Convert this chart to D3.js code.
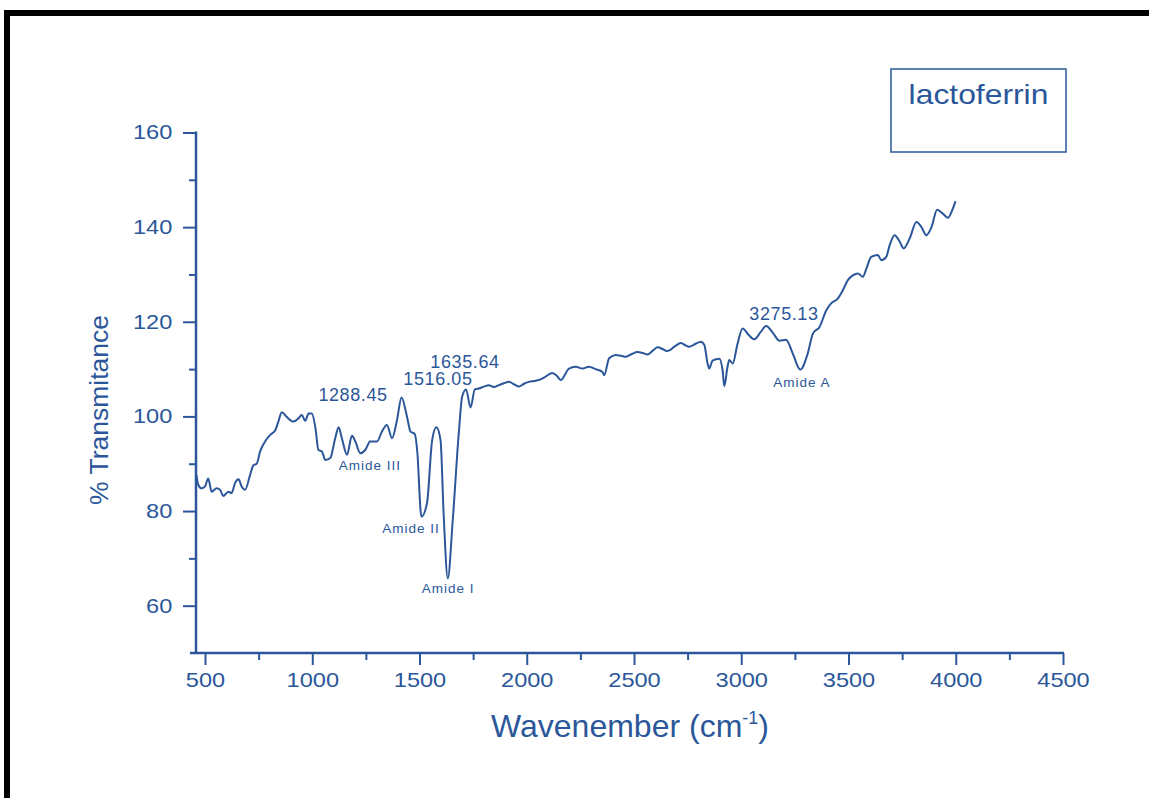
<!DOCTYPE html>
<html>
<head>
<meta charset="utf-8">
<script src="https://cdn.jsdelivr.net/npm/d3@7"></script>
<style>
  html, body { margin: 0; padding: 0; background: #fff; }
  svg { display: block; }
  text { font-family: "Liberation Sans", Arial, sans-serif; }
</style>
</head>
<body>
<svg id="chart" width="1149" height="798"></svg>
<script>
// ---- data ----
const wavenumber = [460,469,484,500,515,531,554,570,585,609,624,640,656,671,687,710,726,741,757,780,804,827,842,858,881,912,936,951,967,983,998,1014,1029,1045,1061,1084,1107,1123,1138,1162,1185,1201,1224,1247,1270,1302,1325,1348,1372,1395,1416,1442,1458,1478,1489,1509,1535,1559,1579,1598,1613,1632,1655,1683,1699,1717,1738,1758,1777,1800,1823,1847,1870,1893,1917,1940,1964,1987,2010,2034,2057,2088,2119,2140,2158,2197,2228,2259,2290,2320,2353,2361,2384,2415,2440,2462,2490,2516,2540,2563,2590,2610,2635,2656,2690,2719,2740,2757,2785,2812,2828,2843,2851,2866,2898,2913,2921,2936,2944,2960,2983,3006,3035,3061,3090,3116,3150,3178,3209,3240,3275,3310,3334,3365,3396,3419,3450,3474,3497,3520,3544,3567,3583,3606,3637,3653,3676,3692,3715,3739,3757,3785,3817,3840,3863,3887,3913,3941,3964,3980,3999];
const transmittance = [87.6,85.5,84.8,85.2,86.9,84.1,84.8,84.5,83.2,84.1,83.8,85.9,86.7,85.2,84.5,87.6,89.7,90.0,92.6,94.7,96.1,97.0,98.9,100.9,99.9,98.9,99.6,100.3,99.1,100.6,100.6,97.8,92.9,92.6,90.8,91.2,95.4,97.7,95.4,91.9,95.9,94.7,92.2,92.9,94.7,94.7,96.8,98.2,95.4,99.2,104.0,99.9,96.8,96.3,92.9,78.8,81.7,95.0,97.7,95.0,78.8,65.8,78.1,96.4,104.2,105.7,101.9,105.7,105.9,106.3,106.6,106.2,106.6,107.0,107.3,106.8,106.3,106.9,107.3,107.5,107.7,108.4,109.2,108.6,107.7,110.1,110.5,110.1,110.5,110.0,109.4,108.7,112.3,113.0,112.8,112.6,113.2,113.6,113.4,113.1,114.0,114.6,114.2,113.8,114.8,115.5,115.0,114.7,115.3,115.8,115.1,111.2,110.1,111.8,112.2,109.7,106.4,110.5,111.9,111.2,115.4,118.6,117.2,116.3,117.8,119.1,117.5,116.0,116.2,113.3,109.9,113.3,117.5,118.9,122.4,123.9,124.9,126.7,128.8,129.8,130.2,129.5,131.2,133.7,134.1,133.0,133.7,136.2,138.3,136.9,135.5,137.6,141.1,140.0,138.3,140.0,143.7,142.8,142.0,143.2,145.5];

const xTicks = [500,1000,1500,2000,2500,3000,3500,4000,4500];
const xMinorTicks = [750,1250,1750,2250,2750,3250,3750,4250];
const yTicks = [60,80,100,120,140,160];
const yMinorTicks = [70,90,110,130,150];

const peakLabels = ["1288.45","1516.05","1635.64","3275.13"];
const peakLabelX = [1190,1586,1712,3199];
const peakLabelY = [103.2,106.6,110.2,120.3];

const bandLabels = ["Amide III","Amide II","Amide I","Amide A"];
const bandLabelX = [1269,1460,1633,3283];
const bandLabelY = [88.6,75.3,62.7,106.2];

const legendLabel = "lactoferrin";
const xTitle = "Wavenember (cm";
const yTitle = "% Transmitance";

// ---- drawing ----
const color = "#2b579a";
const stretch = 1.18;
const svg = d3.select("#chart");

// outer frame
svg.append("rect").attr("x", 7).attr("y", 13).attr("width", 1160).attr("height", 820)
  .attr("fill", "none").attr("stroke", "#000").attr("stroke-width", 6);

const x = d3.scaleLinear().domain([458, 4500]).range([196, 1063]);
const y = d3.scaleLinear().domain([50, 160]).range([653, 132.5]);

// x axis
const gx = svg.append("g").attr("transform", "translate(0,653)");
gx.call(d3.axisBottom(x).tickValues(xTicks).tickSize(12).tickSizeOuter(0).tickPadding(8).tickFormat(d3.format("d")));
gx.select(".domain").remove();
gx.selectAll(".tick line").attr("stroke", color).attr("stroke-width", 2);
gx.selectAll(".tick text").attr("fill", color).attr("font-size", 20)
  .attr("font-family", "Liberation Sans, Arial, sans-serif")
  .attr("transform", `scale(${stretch},1)`);
const gxm = svg.append("g").attr("transform", "translate(0,653)");
gxm.call(d3.axisBottom(x).tickValues(xMinorTicks).tickSize(7).tickSizeOuter(0).tickFormat(""));
gxm.select(".domain").remove();
gxm.selectAll(".tick line").attr("stroke", color).attr("stroke-width", 2);
svg.append("line").attr("x1", 190).attr("x2", x(4500) + 1).attr("y1", 653).attr("y2", 653)
  .attr("stroke", color).attr("stroke-width", 2.5);

// y axis
const gy = svg.append("g").attr("transform", "translate(196,0)");
gy.call(d3.axisLeft(y).tickValues(yTicks).tickSize(13).tickSizeOuter(0).tickPadding(10).tickFormat(d3.format("d")));
gy.select(".domain").remove();
gy.selectAll(".tick line").attr("stroke", color).attr("stroke-width", 2);
gy.selectAll(".tick text").attr("fill", color).attr("font-size", 20)
  .attr("font-family", "Liberation Sans, Arial, sans-serif")
  .attr("x", -23.7 / stretch)
  .attr("transform", `scale(${stretch},1)`);
const gym = svg.append("g").attr("transform", "translate(196,0)");
gym.call(d3.axisLeft(y).tickValues(yMinorTicks).tickSize(7).tickSizeOuter(0).tickFormat(""));
gym.select(".domain").remove();
gym.selectAll(".tick line").attr("stroke", color).attr("stroke-width", 2);
svg.append("line").attr("x1", 196).attr("x2", 196).attr("y1", y(160) - 1).attr("y2", 654)
  .attr("stroke", color).attr("stroke-width", 2.5);

// spectrum
const pts = wavenumber.map((w, i) => [w, transmittance[i]]);
svg.append("path").datum(pts)
  .attr("d", d3.line().curve(d3.curveMonotoneX).x(d => x(d[0])).y(d => y(d[1])))
  .attr("fill", "none").attr("stroke", color).attr("stroke-width", 2).attr("stroke-linejoin", "round");

// peak labels
svg.append("g").selectAll("text").data(peakLabels).join("text")
  .attr("x", (d, i) => x(peakLabelX[i])).attr("y", (d, i) => y(peakLabelY[i]))
  .attr("text-anchor", "middle").attr("fill", color).attr("font-size", 18)
  .attr("letter-spacing", 0.6).text(d => d);

svg.append("g").selectAll("text").data(bandLabels).join("text")
  .attr("x", (d, i) => x(bandLabelX[i])).attr("y", (d, i) => y(bandLabelY[i]))
  .attr("text-anchor", "middle").attr("fill", color).attr("font-size", 13.5)
  .attr("letter-spacing", 1).text(d => d);

// axis titles
svg.append("text").attr("transform", "translate(108,410) rotate(-90)")
  .attr("text-anchor", "middle").attr("fill", color).attr("font-size", 26.5).text(yTitle);

const xt = svg.append("text").attr("x", 630).attr("y", 737)
  .attr("text-anchor", "middle").attr("fill", color).attr("font-size", 32);
xt.append("tspan").text(xTitle);
xt.append("tspan").attr("dy", -13).attr("font-size", 18).text("-1");
xt.append("tspan").attr("dy", 13).text(")");

// legend box
svg.append("rect").attr("x", 891).attr("y", 69).attr("width", 175).attr("height", 83)
  .attr("fill", "none").attr("stroke", color).attr("stroke-width", 1.5);
svg.append("text").attr("transform", `translate(978.5,104) scale(${stretch},1)`)
  .attr("text-anchor", "middle")
  .attr("fill", color).attr("font-size", 27).text(legendLabel);
</script>
</body>
</html>
